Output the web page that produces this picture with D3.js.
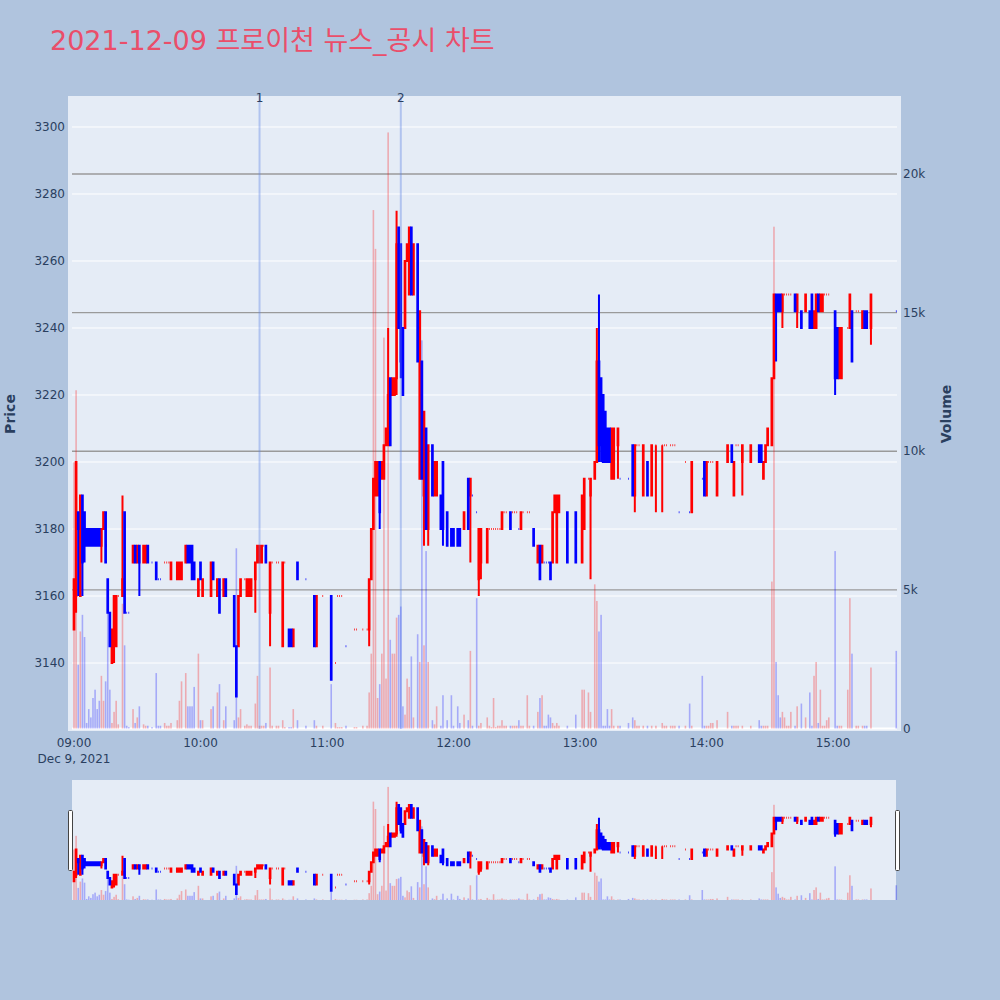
<!DOCTYPE html>
<html><head><meta charset="utf-8">
<script src="https://cdn.jsdelivr.net/npm/d3@7"></script>
<style>body{margin:0;background:#B0C4DE}svg{display:block}</style>
</head><body>
<svg id="chart" width="1000" height="1000"></svg>
<script>
// ---------- DATA (minutes after 09:00, OHLC, volume) ----------
const minute = [
 0,1,2,3,4,5,6,7,8,9,10,11,12,13,14,15,16,17,18,19,20,21,
 23,24,25,26,28,29,30,31,33,34,35,37,39,40,41,43,44,45,46,49,50,51,53,54,55,56,57,59,60,61,
 65,66,68,69,71,72,76,77,78,79,81,82,83,84,86,87,88,89,90,91,93,94,96,97,99,100,102,103,104,106,110,114,115,118,122,124,125,126,127,129,133,134,137,139,
 140,141,142,143,144,145,146,147,148,149,150,151,152,153,154,155,156,157,158,159,
 160,161,163,164,165,166,167,168,170,171,172,174,175,177,179,180,182,183,185,187,
 188,189,191,192,193,196,197,198,199,200,201,202,203,204,205,207,208,209,210,211,
 212,213,215,216,218,220,221,222,223,224,225,226,227,228,229,230,234,238,241,242,
 244,245,247,248,249,250,251,252,253,254,255,256,258,259,263,
 265,266,267,268,270,272,274,276,279,280,281,283,284,285,287,290,292,293,298,299,
 300,301,302,303,305,310,312,313,314,315,317,321,325,326,327,328,329,331,332,333,
 334,335,336,337,338,339,340,342,343,345,347,349,350,351,352,353,354,355,356,357,
 358,361,362,363,364,367,368,369,371,372,374,375,376,378,390];
const open = [
 3150,3160,3185,3160,3190,3185,3180,3180,3180,3180,3180,3180,3180,3175,3180,3185,3165,3155,3140,3145,3145,3160,
 3160,3185,3155,3155,3170,3175,3170,3175,3170,3170,3175,3170,3170,3165,3165,3170,3170,3170,3165,3165,3165,3165,3170,3175,3175,3175,3170,3160,3170,3160,
 3160,3170,3160,3165,3160,3165,3160,3145,3145,3160,3165,3160,3160,3160,3165,3170,3170,3170,3175,3175,3155,3170,3170,3170,3145,3170,3150,3150,3145,3170,3165,3160,3145,3160,3160,3140,3160,3160,3160,3145,3150,3150,3150,3150,
 3150,3165,3180,3190,3190,3200,3195,3195,3205,3205,3225,3220,3220,3225,3270,3265,3240,3240,3260,3250,
 3270,3250,3265,3195,3230,3190,3210,3180,3205,3190,3190,3190,3200,3185,3180,3180,3180,3180,3180,3195,
 3190,3190,3185,3165,3170,3170,3180,3180,3180,3180,3180,3180,3180,3185,3185,3185,3185,3185,3185,3180,
 3180,3185,3185,3185,3180,3170,3175,3170,3170,3170,3170,3170,3170,3185,3170,3185,3185,3185,3170,3180,
 3195,3190,3195,3200,3230,3225,3220,3215,3210,3210,3195,3195,3205,3195,3195,
 3205,3190,3205,3205,3190,3200,3190,3205,3205,3205,3205,3205,3205,3205,3185,3200,3185,3185,3195,3200,
 3190,3200,3200,3200,3190,3200,3205,3190,3205,3205,3200,3200,3205,3205,3195,3200,3205,3205,3225,3250,
 3250,3250,3245,3250,3250,3250,3250,3250,3245,3245,3245,3245,3250,3240,3240,3250,3245,3245,3250,3250,
 3250,3245,3240,3225,3225,3240,3240,3245,3245,3245,3240,3245,3245,3240,3245];
const high = [
 3165,3200,3185,3190,3190,3185,3180,3180,3180,3180,3180,3180,3180,3180,3185,3185,3165,3155,3150,3160,3160,3160,
 3190,3185,3155,3155,3175,3175,3175,3175,3175,3175,3175,3170,3170,3165,3165,3170,3170,3170,3170,3170,3170,3170,3175,3175,3175,3175,3170,3165,3170,3165,
 3170,3170,3165,3165,3165,3165,3160,3145,3160,3165,3165,3165,3165,3165,3170,3175,3175,3175,3175,3175,3170,3170,3170,3170,3170,3170,3150,3150,3150,3170,3165,3160,3160,3160,3160,3140,3160,3160,3160,3145,3150,3150,3150,3150,
 3165,3180,3195,3200,3200,3200,3200,3205,3210,3240,3225,3225,3225,3275,3270,3265,3240,3260,3265,3270,
 3270,3265,3265,3245,3230,3215,3210,3205,3205,3200,3200,3190,3200,3185,3180,3180,3180,3180,3185,3195,
 3195,3190,3185,3180,3180,3180,3180,3180,3180,3180,3180,3180,3185,3185,3185,3185,3185,3185,3185,3180,
 3185,3185,3185,3185,3180,3175,3175,3175,3170,3170,3170,3170,3185,3190,3190,3190,3185,3185,3190,3195,
 3195,3195,3200,3240,3250,3225,3220,3215,3210,3210,3210,3210,3210,3195,3195,
 3205,3205,3205,3205,3205,3200,3205,3205,3205,3205,3205,3205,3205,3205,3185,3200,3185,3200,3195,3200,
 3200,3200,3200,3200,3200,3205,3205,3200,3205,3205,3205,3205,3205,3205,3200,3205,3210,3225,3250,3250,
 3250,3250,3250,3250,3250,3250,3250,3250,3250,3245,3250,3245,3250,3245,3250,3250,3250,3250,3250,3250,
 3250,3245,3240,3240,3240,3240,3250,3245,3245,3245,3245,3245,3245,3250,3245];
const low = [
 3150,3155,3160,3160,3160,3170,3175,3175,3175,3175,3175,3175,3175,3170,3180,3170,3155,3145,3140,3140,3145,3160,
 3160,3155,3155,3155,3170,3170,3170,3160,3170,3170,3170,3170,3165,3165,3165,3170,3170,3170,3165,3165,3165,3165,3170,3170,3170,3165,3165,3160,3165,3160,
 3160,3165,3160,3155,3160,3160,3145,3130,3145,3160,3165,3160,3160,3160,3155,3170,3170,3170,3175,3170,3145,3170,3170,3170,3145,3170,3145,3145,3145,3165,3165,3145,3145,3160,3135,3140,3160,3160,3160,3145,3150,3150,3150,3150,
 3145,3165,3180,3190,3190,3180,3195,3195,3205,3205,3205,3220,3220,3220,3240,3225,3220,3240,3260,3250,
 3250,3250,3230,3195,3195,3175,3180,3175,3190,3190,3190,3180,3175,3175,3175,3175,3175,3175,3180,3180,
 3170,3190,3185,3160,3165,3170,3180,3180,3180,3180,3180,3180,3180,3185,3185,3180,3185,3185,3185,3180,
 3180,3185,3185,3185,3175,3170,3165,3170,3170,3170,3170,3165,3170,3185,3170,3185,3170,3170,3170,3180,
 3195,3165,3195,3200,3200,3200,3200,3200,3200,3200,3195,3195,3195,3195,3195,
 3190,3185,3205,3205,3190,3190,3190,3185,3185,3205,3205,3205,3205,3205,3185,3200,3185,3185,3195,3190,
 3190,3200,3200,3200,3190,3200,3200,3190,3205,3205,3190,3200,3200,3200,3195,3200,3205,3205,3225,3230,
 3245,3245,3240,3250,3250,3250,3250,3245,3240,3240,3245,3240,3240,3240,3240,3245,3245,3245,3250,3250,
 3250,3220,3225,3225,3225,3240,3240,3230,3245,3245,3240,3240,3240,3235,3245];
const close = [
 3165,3200,3180,3190,3170,3175,3175,3175,3175,3175,3175,3175,3175,3180,3185,3170,3155,3145,3150,3160,3160,3160,
 3165,3155,3155,3155,3175,3170,3175,3170,3175,3175,3170,3170,3165,3165,3165,3170,3170,3170,3170,3170,3170,3170,3175,3170,3170,3165,3165,3165,3165,3165,
 3170,3165,3165,3155,3165,3160,3145,3130,3160,3165,3165,3165,3165,3165,3170,3175,3175,3175,3175,3170,3170,3170,3170,3170,3170,3170,3145,3145,3150,3165,3165,3145,3160,3160,3135,3140,3160,3160,3160,3145,3150,3150,3150,3150,
 3165,3180,3195,3200,3200,3185,3200,3205,3210,3220,3205,3225,3225,3265,3240,3230,3220,3260,3265,3270,
 3250,3265,3230,3245,3195,3215,3180,3205,3190,3200,3200,3180,3180,3175,3175,3175,3175,3175,3185,3180,
 3195,3190,3185,3180,3180,3180,3180,3180,3180,3180,3180,3180,3185,3185,3185,3180,3185,3185,3185,3180,
 3185,3185,3185,3185,3175,3175,3165,3175,3170,3170,3170,3165,3185,3190,3190,3190,3170,3170,3190,3195,
 3195,3195,3200,3230,3205,3205,3200,3200,3200,3200,3210,3210,3210,3195,3195,
 3190,3205,3205,3205,3205,3190,3205,3205,3205,3205,3205,3205,3205,3205,3185,3200,3185,3200,3195,3190,
 3200,3200,3200,3200,3200,3205,3200,3200,3205,3205,3205,3205,3200,3200,3200,3205,3210,3225,3250,3245,
 3245,3245,3250,3250,3250,3250,3250,3245,3250,3240,3250,3240,3240,3245,3250,3245,3250,3250,3250,3250,
 3250,3225,3225,3240,3240,3240,3250,3230,3245,3245,3245,3240,3240,3250,3245];
const volume = [
 9600,12200,2300,3500,4100,3300,200,700,400,1100,1400,700,1000,1900,1000,1700,4300,1400,200,600,1000,150,
 4500,3000,100,50,700,200,400,800,150,100,100,50,2000,100,100,200,100,100,200,300,1000,1700,2000,800,800,800,1500,2700,300,300,
 700,800,1300,1600,300,800,300,6500,400,700,100,150,100,100,900,1900,100,100,100,200,2200,100,100,100,300,50,50,50,700,300,100,300,100,100,1600,200,50,50,50,100,50,50,100,100,
 1300,2700,18700,17300,1100,1600,2700,14100,1800,21500,3200,2700,2700,4000,4100,4400,800,500,1800,1500,
 2600,400,3400,2400,14000,3000,6400,2400,300,150,800,100,1200,300,1200,100,800,200,500,300,
 2800,100,4700,100,200,400,100,50,1100,50,100,100,300,100,100,100,100,100,100,300,
 100,100,1200,100,100,600,1100,1200,100,100,500,400,200,100,200,100,100,500,1400,1400,
 1300,600,5200,4600,3500,4100,100,100,700,100,700,100,100,100,200,
 400,300,100,100,100,100,100,100,200,100,100,100,100,100,100,100,900,100,1900,100,
 100,100,200,200,300,600,100,100,100,100,100,100,300,100,100,100,100,5300,18100,2400,
 1200,400,600,400,100,100,600,100,800,900,400,1300,100,1900,2400,200,1400,100,100,300,
 400,6400,100,100,100,1400,4700,2700,100,100,100,100,100,2200,2800];

const priceTicks = [3140,3160,3180,3200,3220,3240,3260,3280,3300];
const volumeTicks = [0,5000,10000,15000,20000];
const volumeTickLabels = ["0","5k","10k","15k","20k"];
const timeTickLabels = ["09:00","10:00","11:00","12:00","13:00","14:00","15:00"];
const markerLabels = ["1","2"];
const markerTimes = ["10:28","11:35"];
const titleText = "2021-12-09 프로이천 뉴스_공시 차트";

// ---------- SETUP ----------
const svg = d3.select("#chart");
const FONT = "'DejaVu Sans','Noto Sans CJK KR',sans-serif";
const base = new Date(2021, 11, 9, 9, 0, 0);
const atMin = m => new Date(base.getTime() + m * 60000);
const parseHM = s => { const [h, mm] = s.split(":").map(Number); return new Date(2021, 11, 9, h, mm, 0); };

const L = 68, R = 901, T = 96, B = 728.5;
const x = d3.scaleTime().domain([atMin(-2.846), atMin(392.25)]).range([L, R]);
const pDom = [3120.45, 3309.25], vDom = [0, 22814];
const yP = d3.scaleLinear().domain(pDom).range([B, T]);
const yV = d3.scaleLinear().domain(vDom).range([B, T]);
const yPs = d3.scaleLinear().domain(pDom).range([900, 780]);
const yVs = d3.scaleLinear().domain(vDom).range([900, 780]);

const data = [];
let prevC = null, prevInc = true;
minute.forEach((m, i) => {
  const o = open[i], c = close[i];
  let inc;
  if (c > o) inc = true; else if (c < o) inc = false;
  else inc = prevC === null ? true : (c > prevC ? true : (c < prevC ? false : prevInc));
  data.push({t: atMin(m), o, h: high[i], l: low[i], c, v: volume[i], inc});
  prevC = c; prevInc = inc;
});

const INC = "#FF0000", DEC = "#0000FF";
const defs = svg.append("defs");
defs.append("clipPath").attr("id", "clipMain").append("rect").attr("x", L).attr("y", T).attr("width", R - L).attr("height", 731 - T);
defs.append("clipPath").attr("id", "clipSlider").append("rect").attr("x", 70).attr("y", 780).attr("width", 828).attr("height", 120);

// title
svg.append("text").attr("x", 50).attr("y", 50).attr("font-family", FONT).attr("font-size", 27)
  .attr("fill", "#EA4E6A").text(titleText);

// plot background
svg.append("rect").attr("x", L).attr("y", T).attr("width", R - L).attr("height", 731 - T).attr("fill", "#E5ECF6");

// price gridlines (white)
const grid = svg.append("g");
priceTicks.forEach(p => grid.append("line").attr("x1", 72).attr("x2", 897).attr("y1", yP(p)).attr("y2", yP(p))
  .attr("stroke", "#ffffff").attr("stroke-width", 1));
// volume zero line and gridlines
grid.append("line").attr("x1", 72).attr("x2", 897).attr("y1", yV(0)).attr("y2", yV(0)).attr("stroke", "#ffffff").attr("stroke-width", 2);
volumeTicks.slice(1).forEach(v => grid.append("line").attr("x1", 72).attr("x2", 897).attr("y1", yV(v)).attr("y2", yV(v))
  .attr("stroke", "#9a9a9a").attr("stroke-width", 1.3));

function drawCandles(g, ys) {
  const paths = {inc: "", dec: ""};
  const bw = 0.7;
  data.forEach(d => {
    const cx = x(d.t);
    const yo = ys(d.o), yc = ys(d.c), yh = ys(d.h), yl = ys(d.l);
    const top = Math.min(yo, yc), bot = Math.max(yo, yc);
    let s = `M${cx - bw / 2},${top}H${cx + bw / 2}V${bot}H${cx - bw / 2}Z`;
    if (yh < top - 0.01) s += `M${cx},${top}V${yh}`;
    if (yl > bot + 0.01) s += `M${cx},${bot}V${yl}`;
    paths[d.inc ? "inc" : "dec"] += s;
  });
  g.append("path").attr("d", paths.inc).attr("fill", INC).attr("stroke", INC).attr("stroke-width", 2);
  g.append("path").attr("d", paths.dec).attr("fill", DEC).attr("stroke", DEC).attr("stroke-width", 2);
}
function drawVolume(g, yv) {
  g.selectAll("rect.v").data(data).enter().append("rect")
    .attr("x", d => x(d.t) - 0.8).attr("width", 1.6)
    .attr("y", d => yv(d.v)).attr("height", d => yv(0) - yv(d.v))
    .attr("fill", d => d.inc ? INC : DEC).attr("fill-opacity", 0.28);
}

const main = svg.append("g").attr("clip-path", "url(#clipMain)");
drawCandles(main, yP);
drawVolume(main, yV);

// marker lines
markerTimes.forEach((t, i) => {
  const xx = x(parseHM(t));
  main.append("line").attr("x1", xx).attr("x2", xx).attr("y1", T).attr("y2", 729)
    .attr("stroke", "rgb(90,130,230)").attr("stroke-opacity", 0.38).attr("stroke-width", 2);
  svg.append("text").attr("x", xx).attr("y", 102).attr("text-anchor", "middle").attr("font-family", FONT)
    .attr("font-size", 12).attr("fill", "#2a3f5f").text(markerLabels[i]);
});

// axes labels
const axisText = svg.append("g").attr("font-family", FONT).attr("font-size", 12).attr("fill", "#2a3f5f");
priceTicks.forEach(p => axisText.append("text").attr("x", 65).attr("y", yP(p)).attr("dy", "0.35em")
  .attr("text-anchor", "end").text(p));
volumeTicks.forEach((v, i) => axisText.append("text").attr("x", 903).attr("y", yV(v)).attr("dy", "0.35em")
  .attr("text-anchor", "start").text(volumeTickLabels[i]));
timeTickLabels.forEach(s => axisText.append("text").attr("x", x(parseHM(s))).attr("y", 746.5)
  .attr("text-anchor", "middle").text(s));
axisText.append("text").attr("x", x(parseHM("09:00"))).attr("y", 762.5).attr("text-anchor", "middle").text("Dec 9, 2021");

svg.append("text").attr("transform", "translate(15,414) rotate(-90)").attr("text-anchor", "middle")
  .attr("font-family", FONT).attr("font-size", 14).attr("font-weight", "bold").attr("fill", "#2a3f5f").text("Price");
svg.append("text").attr("transform", "translate(951,414) rotate(-90)").attr("text-anchor", "middle")
  .attr("font-family", FONT).attr("font-size", 14).attr("font-weight", "bold").attr("fill", "#2a3f5f").text("Volume");

// ---------- RANGE SLIDER ----------
svg.append("rect").attr("x", 72).attr("y", 780).attr("width", 824).attr("height", 120).attr("fill", "#E5ECF6");
const sl = svg.append("g").attr("clip-path", "url(#clipSlider)");
drawCandles(sl, yPs);
drawVolume(sl, yVs);
[[68.5, 810.5], [895.5, 810.5]].forEach(([hx, hy]) => {
  svg.append("rect").attr("x", hx).attr("y", hy).attr("width", 4).attr("height", 60)
    .attr("fill", "#ffffff").attr("stroke", "#444").attr("stroke-width", 1).attr("rx", 1);
});
</script>
</body></html>
